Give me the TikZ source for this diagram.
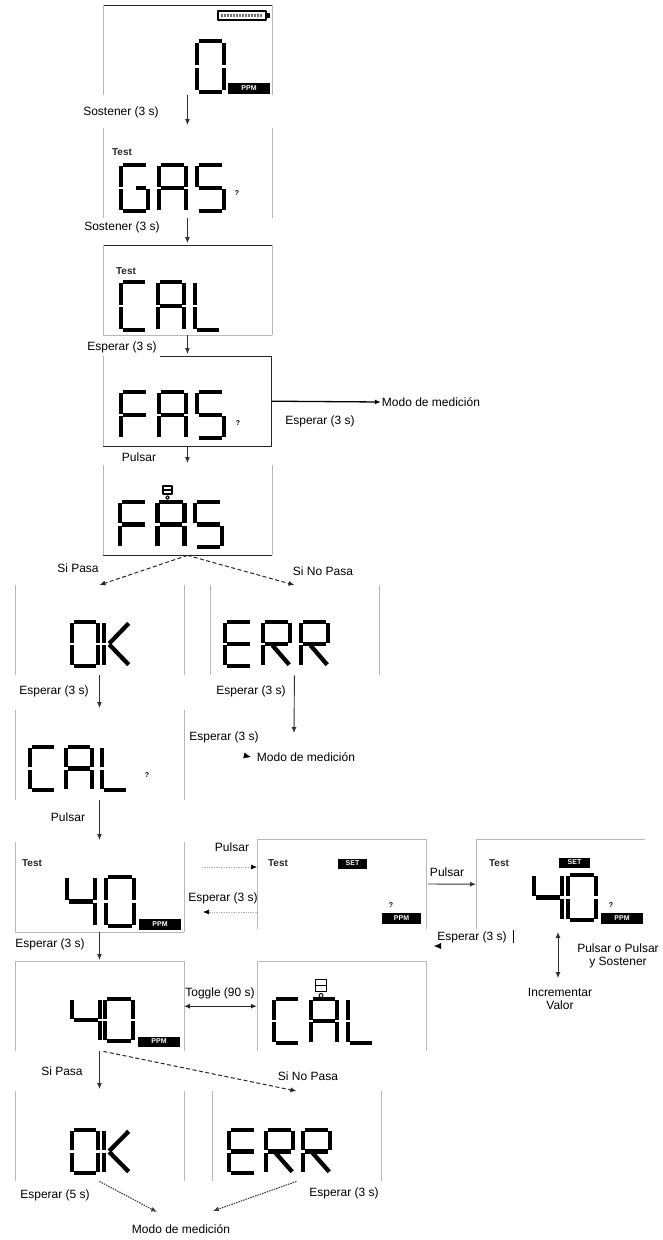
\documentclass[tikz,border=0pt]{standalone}
\usepackage{fontspec}
\setmainfont{Liberation Sans}
\usetikzlibrary{arrows.meta}

\tikzset{
  lcd/.style={line width=4.3pt,line cap=butt},
  frame/.style={draw=black!28,line width=0.8pt},
  darkframe/.style={draw=black!85,line width=1pt},
  screen/.style={minimum width=168.5pt,minimum height=90pt,inner sep=0pt,anchor=north west},
  lbl/.style={font=\fontsize{12}{13.5}\selectfont,inner sep=1pt},
  arr/.style={->,draw=black!80,line width=0.9pt},
  dasharr/.style={->,draw=black!85,line width=1pt,dash pattern=on 4pt off 2.5pt},
  dotarr/.style={->,draw=black!75,line width=1.1pt,dash pattern=on 1.5pt off 1pt},
  lightarr/.style={-{Latex[length=6pt,width=5pt,color=black]},draw=black!30,line width=0.7pt,densely dotted},
  tiponly/.style={-{Latex[length=7pt,width=6pt,color=black]},draw=white},
  tag/.style={fill=black,text=white,font=\bfseries\fontsize{7}{7}\selectfont,inner sep=0pt,minimum height=11pt},
  tst/.style={font=\bfseries\fontsize{10}{10}\selectfont,inner sep=0pt,text=black!85},
  qm/.style={font=\bfseries\fontsize{7}{7}\selectfont,inner sep=0pt},
}

% segments of one LCD character (unit cell 1 x 2)
\newcommand\segA{\draw[lcd] (0.06,0)--(0.94,0);}
\newcommand\segB{\draw[lcd] (1,0.06)--(1,0.95);}
\newcommand\segC{\draw[lcd] (1,1.05)--(1,1.94);}
\newcommand\segD{\draw[lcd] (0.06,2)--(0.94,2);}
\newcommand\segE{\draw[lcd] (0,1.05)--(0,1.94);}
\newcommand\segF{\draw[lcd] (0,0.06)--(0,0.95);}
\newcommand\segG{\draw[lcd] (0.08,1)--(0.92,1);}

\newcommand\lcdZero{\segA\segB\segC\segD\segE\segF}
\newcommand\lcdFour{\segF\segG\segB\segC}
\newcommand\lcdG{\segA\segF\segE\segD\segC\draw[lcd] (0.55,1)--(0.92,1);}
\newcommand\lcdA{\segA\segB\segC\segE\segF\segG}
\newcommand\lcdS{\segA\segF\segG\segC\segD}
\newcommand\lcdC{\segA\segF\segE\segD}
\newcommand\lcdL{\segF\segE\segD}
\newcommand\lcdF{\segA\segF\segE\segG}
\newcommand\lcdE{\segA\segF\segE\segG\segD}
\newcommand\lcdK{\segF\segE\draw[lcd] (0.2,0.98)--(0.95,0.06);\draw[lcd] (0.2,1.02)--(0.95,1.94);}
\newcommand\lcdR{\segA\segB\segF\segE\segG\draw[lcd] (0.35,1.06)--(0.97,1.94);}

% x, y, width, half height, pitch, characters
\newcommand\lcdword[6]{%
  \foreach \g [count=\i from 0] in {#6}{%
    \begin{scope}[shift={(#1+\i*#5,#2)},x=#3pt,y=-#4pt]
      \g
    \end{scope}}}

\newcommand\sides[1]{\draw[frame] (#1.north west)--(#1.south west) (#1.north east)--(#1.south east);}

\begin{document}
\begin{tikzpicture}[line join=round,>={Latex[length=6pt,width=5pt]},x=1pt,y=-1pt]
\useasboundingbox (0,0) rectangle (662,1240);

% screens
\node[screen] (zero)   at (103,5)    {};
\node[screen] (gas)    at (103,128)  {};
\node[screen] (cal)    at (103,245)  {};
\node[screen] (fas)    at (103,356)  {};
\node[screen] (fasb)   at (103,465)  {};
\node[screen] (ok)     at (15,585)   {};
\node[screen] (err)    at (210,585)  {};
\node[screen] (calq)   at (15,710)   {};
\node[screen] (forty)  at (15,842)   {};
\node[screen] (setbox) at (257,839)  {};
\node[screen] (setval) at (476,839)  {};
\node[screen] (fortyb) at (15,961)   {};
\node[screen] (calb)   at (257,961)  {};
\node[screen] (okb)    at (15,1091)  {};
\node[screen] (errb)   at (212,1091) {};

\draw[darkframe] (zero.north west)--(zero.north east);
\sides{zero}
\sides{gas}
\draw[darkframe] (cal.north west)--(cal.north east);
\draw[frame] (cal.south west)--(cal.south east);
\sides{cal}
\draw[darkframe] (160,356)--(fas.north east)--(fas.south east)--(fas.south west);
\draw[frame] (fas.north west)--(fas.south west);
\draw[darkframe] (fasb.south west)--(fasb.south east);
\sides{fasb}
\sides{ok}
\sides{err}
\sides{calq}
\sides{forty}
\draw[frame] (forty.south west)--(forty.south east);
\sides{setbox}
\draw[frame] (setbox.north west)--(setbox.north east);
\draw[frame] (setval.south west)--(setval.north west)--(setval.north east);
\sides{fortyb}
\draw[frame] (fortyb.north west)--(fortyb.north east);
\sides{calb}
\draw[frame] (calb.north west)--(calb.north east);
\sides{okb}
\sides{errb}

% battery
\draw[line width=1.3pt] (218,11) rectangle (266,20);
\fill (266,13) rectangle (270,18);
\draw[black!55,line width=3pt,dash pattern=on 2pt off 1pt] (221,15.5)--(263,15.5);

% display contents
\lcdword{197}{41}{27}{25.5}{0}{\lcdZero}
\node[tag,minimum width=42pt] (ppmA) at (249,88) {PPM};

\node[tst] (tstA) at (122,152) {Test};
\lcdword{121}{165}{27}{23}{38}{\lcdG,\lcdA,\lcdS}
\node[qm] (qA) at (237,193) {?};

\node[tst] (tstB) at (126,271) {Test};
\lcdword{121}{282}{26}{24}{37}{\lcdC,\lcdA,\lcdL}

\lcdword{121}{392}{27}{23}{38}{\lcdF,\lcdA,\lcdS}
\node[qm] (qB) at (238,423) {?};

\lcdword{120}{502}{27}{22.5}{37.5}{\lcdF,\lcdA,\lcdS}
\draw[line width=1.4pt] (163,486) rectangle (172,494) (163,490)--(172,490);
\draw[line width=1pt] (167.5,497.5) circle (1.8pt);

\lcdword{72}{622}{26}{22}{32}{\lcdZero,\lcdK}
\lcdword{225}{622}{27}{22}{38}{\lcdE,\lcdR,\lcdR}

\lcdword{30}{747}{26}{21.5}{36}{\lcdC,\lcdA,\lcdL}
\node[qm] (qC) at (147,775) {?};

\node[tst] (tstC) at (32,863) {Test};
\lcdword{67}{877}{28}{24.5}{39}{\lcdFour,\lcdZero}
\node[tag,minimum width=42pt] (ppmB) at (160,924) {PPM};

\node[tst] (tstD) at (278,863) {Test};
\node[tag,minimum width=29pt,minimum height=10pt] (setA) at (352.5,863.5) {SET};
\node[qm] (qD) at (391,905) {?};
\node[tag,minimum width=39pt] (ppmC) at (401.5,918) {PPM};

\node[tst] (tstE) at (499,863) {Test};
\node[tag,minimum width=31pt,minimum height=10pt] (setB) at (574.5,862.5) {SET};
\lcdword{534}{875}{28}{22.5}{34}{\lcdFour,\lcdZero}
\node[qm] (qE) at (611,905) {?};
\node[tag,minimum width=42pt] (ppmD) at (622,918) {PPM};

\lcdword{72}{999}{28}{21}{33}{\lcdFour,\lcdZero}
\node[tag,minimum width=42pt,minimum height=10pt] (ppmE) at (159,1041.5) {PPM};

\lcdword{274}{999}{26}{22}{37}{\lcdC,\lcdA,\lcdL}
\draw[line width=1.6pt] (315.5,979.5) rectangle (326.5,991.5) (315.5,985.5)--(326.5,985.5);
\draw[line width=1pt] (321,995.5) circle (2pt);

\lcdword{72}{1130}{26}{21.5}{32}{\lcdZero,\lcdK}
\lcdword{229}{1130}{27}{21.5}{37}{\lcdE,\lcdR,\lcdR}

% texts
\node[lbl] (sosA)  at (121,112)  {Sostener (3 s)};
\node[lbl] (sosB)  at (122,227)  {Sostener (3 s)};
\node[lbl] (espA)  at (122,347)  {Esperar (3 s)};
\node[lbl] (modoA) at (431,402)  {Modo de medición};
\node[lbl] (espB)  at (320,421)  {Esperar (3 s)};
\node[lbl] (pulA)  at (139,457)  {Pulsar};
\node[lbl] (siA)   at (78,568)   {Si Pasa};
\node[lbl] (noA)   at (323,571)  {Si No Pasa};
\node[lbl] (espC)  at (54,691)   {Esperar (3 s)};
\node[lbl] (espD)  at (251,691)  {Esperar (3 s)};
\node[lbl] (espE)  at (224,737)  {Esperar (3 s)};
\node[lbl] (modoB) at (306,757)  {Modo de medición};
\node[lbl] (pulB)  at (68,817)   {Pulsar};
\node[lbl] (pulC)  at (232,847)  {Pulsar};
\node[lbl] (espF)  at (223,898)  {Esperar (3 s)};
\node[lbl] (pulD)  at (447,872)  {Pulsar};
\node[lbl] (espG)  at (472,937)  {Esperar (3 s)};
\node[lbl,align=center] (pulE) at (618,956) {Pulsar o Pulsar\\y Sostener};
\node[lbl,align=center] (incr) at (560,999) {Incrementar\\Valor};
\node[lbl] (espH)  at (50,944)   {Esperar (3 s)};
\node[lbl] (tog)   at (220,993)  {Toggle (90 s)};
\node[lbl] (siB)   at (62,1071)  {Si Pasa};
\node[lbl] (noB)   at (308,1076) {Si No Pasa};
\node[lbl] (espI)  at (55,1195)  {Esperar (5 s)};
\node[lbl] (espJ)  at (344,1193) {Esperar (3 s)};
\node[lbl] (modoC) at (181,1229) {Modo de medición};

% free ends
\coordinate (errout) at (294,733);
\coordinate (calqout) at (242,755);
\coordinate (pin) at (202,867);
\coordinate (back) at (203,912);
\coordinate (valin) at (428,884);
\coordinate (valout) at (442,946);
\coordinate (valtip) at (434,946);
\coordinate (upA) at (558,932);
\coordinate (dnA) at (558,978);
\coordinate (okin) at (157,1212);
\coordinate (errin) at (213,1211);

% connectors
\draw[arr] (zero.south) -- ([yshift=3pt]gas.north);
\draw[arr] (gas.south) -- ([yshift=2pt]cal.north);
\draw[arr] (cal.south) -- ([yshift=2pt]fas.north);
\draw[->,line width=1.3pt] (fas.east) -- (modoA.west);
\draw[arr] (fas.south) -- ([yshift=2pt]fasb.north);
\draw[dasharr] (fasb.south) -- (ok.north);
\draw[dasharr] (fasb.south) -- (err.north);
\draw[arr] (ok.south) -- ([yshift=2pt]calq.north);
\draw[arr] (err.south) -- (errout);
\draw[tiponly] (calqout) -- ([xshift=-5pt]modoB.west);
\draw[arr] (calq.south) -- ([yshift=2pt]forty.north);
\draw[lightarr] (pin) -- (pin -| setbox.west);
\draw[lightarr] (setbox.west |- back) -- (back);
\draw[arr] (valin) -- (setval.west);
\draw[line width=1pt] (513,930) -- (513,943);
\draw[tiponly] (valout) -- (valtip);
\draw[<->,draw=black!80,line width=0.9pt] (upA) -- (dnA);
\draw[arr] (forty.south) -- ([yshift=1pt]fortyb.north);
\draw[<->,draw=black!85,line width=1.2pt] (fortyb.east) -- (calb.west);
\draw[arr] (fortyb.south) -- ([yshift=2pt]okb.north);
\draw[dasharr] ([xshift=4pt]fortyb.south) -- (errb.north);
\draw[dotarr] (okb.south) -- (okin);
\draw[dotarr] (errb.south) -- (errin);
\end{tikzpicture}
\end{document}
